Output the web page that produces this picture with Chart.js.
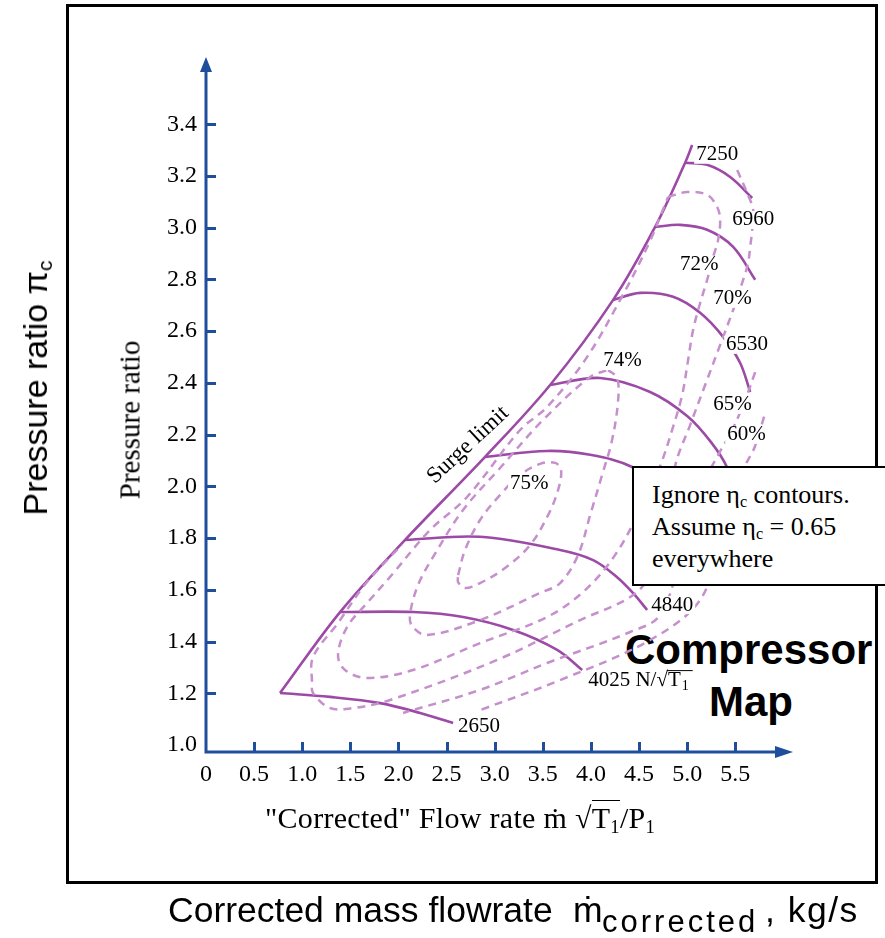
<!DOCTYPE html>
<html lang="en">
<head>
  <meta charset="UTF-8" />
  <title>Compressor Map</title>
  <style>
    body {
      margin: 0;
      background: #fff;
    }

    #wrap {
      position: relative;
      width: 885px;
      height: 938px;
      overflow: hidden;
      background: #fff;
    }

    .frame {
      position: absolute;
      left: 66px;
      top: 4px;
      width: 812px;
      height: 880px;
      border: 3px solid #000;
      box-sizing: border-box;
      overflow: hidden;
    }

    .big {
      position: absolute;
      font-family: "Liberation Sans", Arial, sans-serif;
      font-weight: bold;
      font-size: 42px;
      line-height: 1;
      white-space: nowrap;
      color: #000;
    }

    canvas {
      position: absolute;
      left: 0;
      top: 0;
    }

    .note {
      position: absolute;
      left: 632px;
      top: 466px;
      width: 270px;
      height: 120px;
      border: 2px solid #000;
      box-sizing: border-box;
      background: #fff;
      font-family: "Liberation Serif", "Times New Roman", serif;
      font-size: 26px;
      line-height: 32px;
      padding: 11px 0 0 18px;
      color: #000;
    }

    .note sub, .title sub {
      font-size: 0.62em;
      vertical-align: -0.25em;
      line-height: 0;
    }

    .title {
      position: absolute;
      white-space: nowrap;
      color: #000;
      line-height: 1;
    }

    .sans {
      font-family: "Liberation Sans", Arial, sans-serif;
      font-size: 35px;
    }

    .serif {
      font-family: "Liberation Serif", "Times New Roman", serif;
    }

    .rot {
      transform: translate(-50%, -50%) rotate(-90deg);
    }

    .radicand {
      border-top: 1px solid #000;
    }
  </style>
</head>
<body>
<div id="wrap">
  <div class="frame">
    <div class="big" style="left:556px; top:622px;">Compressor</div>
    <div class="big" style="left:640px; top:674px;">Map</div>
  </div>

  <canvas id="map" width="885" height="938"></canvas>

  <div class="title sans rot" style="left:35px; top:388px; font-size:34px;">Pressure ratio π<sub>c</sub></div>
  <div class="title serif rot" style="left:130px; top:420px; font-size:29px;">Pressure ratio</div>
  <div class="title serif" style="left:265px; top:803px; font-size:30px; letter-spacing:0.3px;">"Corrected" Flow rate ṁ √<span class="radicand">T<sub>1</sub></span>/P<sub>1</sub></div>

  <div class="title sans" style="left:168px; top:893px; font-size:35.5px;">Corrected mass flowrate</div>
  <div class="title sans" style="left:573px; top:893px; font-size:35.5px;">ṁ</div>
  <div class="title sans" style="left:602px; top:906px; font-size:31px; letter-spacing:3px;">corrected</div>
  <div class="title sans" style="left:765px; top:893px; font-size:35.5px; letter-spacing:1.5px;">, kg/s</div>

  <div class="note">
    Ignore η<sub>c</sub> contours.<br>
    Assume η<sub>c</sub> = 0.65<br>
    everywhere
  </div>
</div>

<script src="https://cdn.jsdelivr.net/npm/chart.js"></script>
<script>
  // axis ticks
  const xTicks = [0, 0.5, 1, 1.5, 2, 2.5, 3, 3.5, 4, 4.5, 5, 5.5];
  const yTicks = [1.0, 1.2, 1.4, 1.6, 1.8, 2.0, 2.2, 2.4, 2.6, 2.8, 3.0, 3.2, 3.4];

  // surge limit  [flow, pressure ratio]
  const surge = [[0.769, 1.201], [1.393, 1.514], [2.069, 1.793], [2.900, 2.114], [3.576, 2.392],
                 [4.231, 2.721], [4.667, 3.003], [4.979, 3.251], [5.052, 3.320]];

  // corrected speed lines
  const n2650 = [[0.769, 1.201], [1.289, 1.186], [1.809, 1.162], [2.225, 1.124], [2.568, 1.085]];
  const n4025 = [[1.393, 1.514], [2.152, 1.514], [2.672, 1.495], [3.191, 1.445], [3.649, 1.368], [3.909, 1.290]];
  const n4840 = [[2.069, 1.793], [2.848, 1.805], [3.680, 1.754], [4.023, 1.715], [4.272, 1.649], [4.439, 1.587], [4.584, 1.522]];
  const nMid1 = [[2.900, 2.114], [3.545, 2.137], [3.992, 2.122], [4.428, 2.075], [4.750, 1.980]];
  const nMid2 = [[3.576, 2.392], [4.096, 2.419], [4.615, 2.365], [5.000, 2.272], [5.250, 2.170], [5.420, 2.070], [5.500, 1.970]];
  const n6530 = [[4.231, 2.721], [4.511, 2.748], [4.854, 2.733], [5.135, 2.671], [5.374, 2.578], [5.551, 2.477], [5.655, 2.365]];
  const n6960 = [[4.667, 3.003], [4.927, 3.011], [5.208, 2.992], [5.478, 2.926], [5.707, 2.799]];
  const n7250 = [[4.979, 3.251], [5.208, 3.243], [5.447, 3.196], [5.676, 3.115]];

  // efficiency contours (dashed)
  const eff75 = [[2.620, 1.657], [2.692, 1.754], [2.848, 1.870], [3.056, 1.967], [3.264, 2.044], [3.472, 2.087],
                 [3.628, 2.091], [3.690, 2.063], [3.659, 1.986], [3.555, 1.889], [3.368, 1.773], [3.108, 1.684],
                 [2.848, 1.626], [2.692, 1.607], [2.620, 1.630], [2.620, 1.657]];
  const eff74 = [[4.179, 2.450], [4.272, 2.419], [4.283, 2.334], [4.220, 2.179], [4.116, 2.044], [3.992, 1.889],
                 [3.867, 1.735], [3.680, 1.626], [3.472, 1.588], [2.848, 1.483], [2.297, 1.425], [2.141, 1.460],
                 [2.121, 1.507], [2.204, 1.619], [2.360, 1.727], [2.672, 1.909], [3.056, 2.071], [3.503, 2.257],
                 [3.992, 2.423], [4.179, 2.450]];
  const eff72 = [[4.802, 3.119], [5.000, 3.138], [5.208, 3.127], [5.312, 3.080], [5.343, 3.030], [5.322, 2.953],
                 [5.270, 2.887], [5.208, 2.798], [5.135, 2.709], [5.062, 2.605], [5.010, 2.489], [4.948, 2.353],
                 [4.844, 2.218], [4.719, 2.079], [4.511, 1.909], [4.252, 1.735], [3.940, 1.599], [3.545, 1.495],
                 [2.848, 1.394], [2.152, 1.290], [1.674, 1.259], [1.445, 1.290], [1.372, 1.348], [1.466, 1.456],
                 [1.674, 1.549], [1.913, 1.650], [2.328, 1.831], [2.713, 1.959], [3.264, 2.218], [3.545, 2.307],
                 [3.940, 2.489], [4.304, 2.721], [4.595, 2.933], [4.802, 3.119]];
  const eff70 = [[5.520, 3.223], [5.624, 3.134], [5.686, 3.069], [5.676, 2.991], [5.655, 2.926], [5.634, 2.864],
                 [5.582, 2.798], [5.478, 2.682], [5.343, 2.547], [5.187, 2.392], [5.031, 2.237], [4.875, 2.079],
                 [4.802, 1.870], [4.615, 1.657], [4.408, 1.572], [3.888, 1.483], [3.025, 1.329], [1.913, 1.174],
                 [1.528, 1.143], [1.289, 1.143], [1.112, 1.201], [1.102, 1.240], [1.112, 1.340], [1.372, 1.472],
                 [1.632, 1.611], [1.881, 1.715], [2.037, 1.773]];
  const eff65 = [[5.707, 2.442], [5.603, 2.334], [5.468, 2.218], [5.322, 2.121], [5.135, 1.986], [4.950, 1.750],
                 [4.719, 1.503], [4.408, 1.437], [3.545, 1.317], [2.848, 1.213], [2.048, 1.124]];
  const eff60 = [[5.800, 2.270], [5.700, 2.150], [5.603, 2.079], [5.350, 1.800], [5.135, 1.561], [4.615, 1.406],
                 [3.680, 1.251], [2.848, 1.135]];

  // curve labels
  const labelText = ['7250', '6960', '6530', '4840', '2650', '72%', '70%', '74%', '65%', '60%', '75%'];
  const labelX = [5.094, 5.468, 5.405, 4.626, 2.620, 4.927, 5.270, 4.127, 5.270, 5.416, 3.160];
  const labelY = [3.282, 3.030, 2.547, 1.541, 1.070, 2.856, 2.725, 2.485, 2.315, 2.199, 2.013];
  const unitLabel = {x: 3.971, y: 1.251};
  const surgeLabel = {x: 2.723, y: 2.160};

  const purple = '#9c4aa6';
  const lilac = '#c690cd';
  const axisBlue = '#1f4e9c';
  const serif = '"Liberation Serif", "Times New Roman", serif';

  function curve(points, dashed) {
    return {
      data: points.map(p => ({x: p[0], y: p[1]})),
      borderColor: dashed ? lilac : purple,
      borderWidth: dashed ? 2.5 : 2.6,
      borderDash: dashed ? [8, 6] : [],
      pointRadius: 0,
      tension: 0.35,
      fill: false
    };
  }

  const decor = {
    id: 'decor',
    afterDatasetsDraw(chart) {
      const {ctx, chartArea: a, scales: {x, y}} = chart;
      ctx.save();

      // axes with arrow heads
      ctx.strokeStyle = axisBlue;
      ctx.fillStyle = axisBlue;
      ctx.lineWidth = 3;
      ctx.beginPath();
      ctx.moveTo(a.left, a.bottom);
      ctx.lineTo(a.right - 14, a.bottom);
      ctx.moveTo(a.left, a.bottom + 1.5);
      ctx.lineTo(a.left, a.top + 12);
      ctx.stroke();

      ctx.beginPath();
      ctx.moveTo(a.right, a.bottom);
      ctx.lineTo(a.right - 18, a.bottom - 6);
      ctx.lineTo(a.right - 18, a.bottom + 6);
      ctx.closePath();
      ctx.fill();
      ctx.beginPath();
      ctx.moveTo(a.left, a.top);
      ctx.lineTo(a.left - 6, a.top + 15);
      ctx.lineTo(a.left + 6, a.top + 15);
      ctx.closePath();
      ctx.fill();

      // inward tick marks
      ctx.beginPath();
      xTicks.forEach(v => {
        if (v === 0) return;
        const px = Math.round(x.getPixelForValue(v)) + 0.5;
        ctx.moveTo(px, a.bottom);
        ctx.lineTo(px, a.bottom - 10);
      });
      yTicks.forEach(v => {
        if (v === 1.0) return;
        const py = Math.round(y.getPixelForValue(v)) + 0.5;
        ctx.moveTo(a.left, py);
        ctx.lineTo(a.left + 10, py);
      });
      ctx.stroke();

      // curve labels
      ctx.font = '21px ' + serif;
      ctx.textBaseline = 'middle';
      ctx.textAlign = 'left';
      labelText.forEach((t, i) => {
        const px = x.getPixelForValue(labelX[i]);
        const py = y.getPixelForValue(labelY[i]);
        const w = ctx.measureText(t).width;
        ctx.fillStyle = '#fff';
        ctx.fillRect(px - 2, py - 9, w + 4, 18);
        ctx.fillStyle = '#000';
        ctx.fillText(t, px, py);
      });

      // 4025 N/sqrt(T1)
      const ux = x.getPixelForValue(unitLabel.x);
      const uy = y.getPixelForValue(unitLabel.y);
      const main = '4025 N/√T';
      ctx.fillStyle = '#000';
      ctx.fillText(main, ux, uy);
      const wMain = ctx.measureText(main).width;
      const wT = ctx.measureText('T').width;
      ctx.strokeStyle = '#000';
      ctx.lineWidth = 1;
      ctx.beginPath();
      ctx.moveTo(ux + wMain - wT - 1, uy - 9.5);
      ctx.lineTo(ux + wMain + 12, uy - 9.5);
      ctx.stroke();
      ctx.font = '14px ' + serif;
      ctx.fillText('1', ux + wMain + 1, uy + 6);

      // surge limit
      ctx.font = '23px ' + serif;
      ctx.textAlign = 'center';
      ctx.translate(x.getPixelForValue(surgeLabel.x), y.getPixelForValue(surgeLabel.y));
      ctx.rotate(-43 * Math.PI / 180);
      ctx.fillText('Surge limit', 0, 0);

      ctx.restore();
    }
  };

  new Chart(document.getElementById('map').getContext('2d'), {
    type: 'line',
    data: {
      datasets: [
        curve(eff75, true), curve(eff74, true), curve(eff72, true),
        curve(eff70, true), curve(eff65, true), curve(eff60, true),
        curve(surge, false), curve(n2650, false), curve(n4025, false), curve(n4840, false),
        curve(nMid1, false), curve(nMid2, false), curve(n6530, false), curve(n6960, false), curve(n7250, false)
      ]
    },
    options: {
      responsive: false,
      animation: false,
      layout: {padding: {top: 57, right: 92, left: 0, bottom: 0}},
      plugins: {
        legend: {display: false},
        tooltip: {enabled: false}
      },
      scales: {
        x: {
          type: 'linear',
          min: 0,
          max: 6.1,
          grid: {display: false},
          border: {display: false},
          afterBuildTicks: s => { s.ticks = xTicks.map(v => ({value: v})); },
          afterFit: s => { s.height = 186; },
          ticks: {
            font: {family: serif, size: 24},
            color: '#000',
            padding: 0,
            maxRotation: 0,
            autoSkip: false,
            callback: v => v === 0 ? '0' : v.toFixed(1)
          }
        },
        y: {
          type: 'linear',
          min: 0.973,
          max: 3.66,
          grid: {display: false},
          border: {display: false},
          afterBuildTicks: s => { s.ticks = yTicks.map(v => ({value: v})); },
          afterFit: s => { s.width = 206; },
          ticks: {
            font: {family: serif, size: 24},
            color: '#000',
            padding: 1,
            autoSkip: false,
            callback: v => v.toFixed(1)
          }
        }
      }
    },
    plugins: [decor]
  });
</script>
</body>
</html>
